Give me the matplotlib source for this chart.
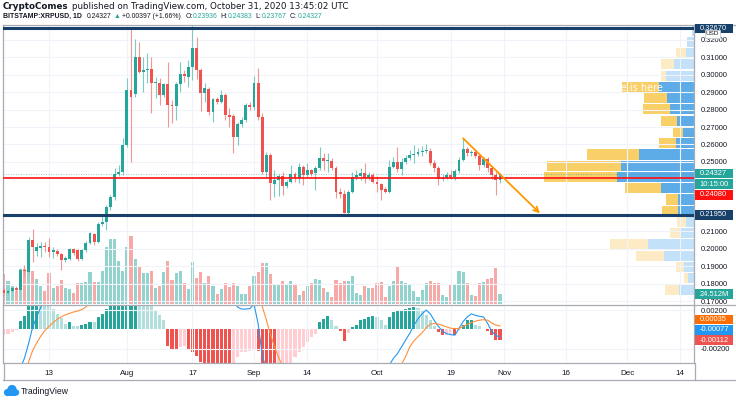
import numpy as np
import pandas as pd
import matplotlib
matplotlib.use("Agg")
import matplotlib.pyplot as plt
import matplotlib.dates as mdates
from matplotlib.lines import Line2D
from matplotlib.patches import Circle, Rectangle
from matplotlib.transforms import IdentityTransform
from matplotlib.ticker import FormatStrFormatter

nan = np.nan

# daily candles BITSTAMP:XRPUSD, 2 Jul -> 31 Oct 2020
dates = pd.date_range("2020-07-02", "2020-10-31", freq="D")

opens = [
    0.1763, 0.1745, 0.1757, 0.1774, 0.1765, 0.1880, 0.1866, 0.2050, 0.1987, 0.2004,
    0.2016, 0.2012, 0.1983, 0.1989, 0.1970, 0.1935, 0.1939, 0.1997, 0.1993, 0.1941,
    0.1993, 0.2035, 0.2085, 0.2039, 0.2142, 0.2155, 0.2242, 0.2299, 0.2430, 0.2443,
    0.2596, 0.2913, 0.2890, 0.3104, 0.3018, 0.3028, 0.3032, 0.2951, 0.2955, 0.2884,
    0.2945, 0.2826, 0.2821, 0.2945, 0.3005, 0.2989, 0.3047, 0.3152, 0.3028, 0.2897,
    0.2917, 0.2788, 0.2859, 0.2845, 0.2884, 0.2769, 0.2765, 0.2644, 0.2717, 0.2740,
    0.2826, 0.2813, 0.2951, 0.2759, 0.2443, 0.2539, 0.2372, 0.2395, 0.2418, 0.2361,
    0.2385, 0.2430, 0.2407, 0.2472, 0.2424, 0.2453, 0.2434, 0.2462, 0.2520, 0.2506,
    0.2506, 0.2462, 0.2326, 0.2315, 0.2207, 0.2328, 0.2414, 0.2418, 0.2434, 0.2407,
    0.2424, 0.2385, 0.2372, 0.2342, 0.2328, 0.2472, 0.2500, 0.2457, 0.2499, 0.2522,
    0.2539, 0.2545, 0.2556, 0.2562, 0.2564, 0.2491, 0.2464, 0.2399, 0.2409, 0.2424,
    0.2415, 0.2447, 0.2510, 0.2572, 0.2549, 0.2558, 0.2533, 0.2481, 0.2514, 0.2462,
    0.2424, 0.23936,
]
highs = [
    0.1774, 0.1768, 0.1786, 0.1786, 0.1889, 0.1906, 0.2067, 0.2113, 0.2033, 0.2040,
    0.2040, 0.2062, 0.2012, 0.1998, 0.1975, 0.1958, 0.2004, 0.2004, 0.1998, 0.1998,
    0.2044, 0.2096, 0.2090, 0.2154, 0.2194, 0.2251, 0.2309, 0.2464, 0.2481, 0.2637,
    0.2982, 0.3267, 0.3204, 0.3190, 0.3104, 0.3124, 0.3104, 0.2989, 0.2980, 0.2955,
    0.3075, 0.2855, 0.2960, 0.3075, 0.3028, 0.3085, 0.3286, 0.3219, 0.3039, 0.2951,
    0.2930, 0.2867, 0.2872, 0.2913, 0.2895, 0.2807, 0.2775, 0.2729, 0.2757, 0.2838,
    0.2845, 0.2993, 0.3037, 0.2780, 0.2556, 0.2550, 0.2453, 0.2430, 0.2441, 0.2395,
    0.2481, 0.2441, 0.2491, 0.2481, 0.2491, 0.2458, 0.2476, 0.2587, 0.2549, 0.2549,
    0.2522, 0.2476, 0.2349, 0.2338, 0.2338, 0.2443, 0.2453, 0.2464, 0.2491, 0.2441,
    0.2435, 0.2418, 0.2378, 0.2355, 0.2510, 0.2529, 0.2587, 0.2522, 0.2539, 0.2568,
    0.2596, 0.2579, 0.2591, 0.2602, 0.2579, 0.2510, 0.2476, 0.2430, 0.2441, 0.2453,
    0.2458, 0.2527, 0.2635, 0.2585, 0.2568, 0.2573, 0.2545, 0.2527, 0.2527, 0.2476,
    0.2441, 0.24383,
]
lows = [
    0.1734, 0.1734, 0.1751, 0.1751, 0.1763, 0.1843, 0.1855, 0.1925, 0.1958, 0.1952,
    0.1983, 0.1952, 0.1947, 0.1958, 0.1878, 0.1924, 0.1935, 0.1964, 0.1929, 0.1935,
    0.1981, 0.2027, 0.2021, 0.2033, 0.2131, 0.2108, 0.2223, 0.2280, 0.2418, 0.2424,
    0.2585, 0.2500, 0.2870, 0.3010, 0.2903, 0.2951, 0.2780, 0.2865, 0.2826, 0.2874,
    0.2702, 0.2721, 0.2740, 0.2903, 0.2960, 0.2932, 0.2970, 0.2974, 0.2794, 0.2845,
    0.2769, 0.2730, 0.2832, 0.2838, 0.2740, 0.2702, 0.2549, 0.2596, 0.2700, 0.2729,
    0.2798, 0.2798, 0.2740, 0.2430, 0.2407, 0.2280, 0.2297, 0.2303, 0.2309, 0.2349,
    0.2378, 0.2384, 0.2376, 0.2366, 0.2412, 0.2418, 0.2338, 0.2455, 0.2453, 0.2443,
    0.2453, 0.2290, 0.2292, 0.2204, 0.2194, 0.2320, 0.2395, 0.2395, 0.2376, 0.2395,
    0.2378, 0.2328, 0.2280, 0.2320, 0.2320, 0.2464, 0.2441, 0.2424, 0.2487, 0.2510,
    0.2493, 0.2533, 0.2533, 0.2550, 0.2481, 0.2441, 0.2366, 0.2389, 0.2399, 0.2401,
    0.2395, 0.2435, 0.2504, 0.2533, 0.2533, 0.2522, 0.2453, 0.2470, 0.2441, 0.2401,
    0.2309, 0.23767,
]
closes = [
    0.1745, 0.1757, 0.1774, 0.1765, 0.1880, 0.1872, 0.2050, 0.2012, 0.2012, 0.2016,
    0.2010, 0.1983, 0.1993, 0.1970, 0.1935, 0.1945, 0.1997, 0.1974, 0.1941, 0.1993,
    0.2035, 0.2089, 0.2039, 0.2142, 0.2155, 0.2242, 0.2299, 0.2430, 0.2443, 0.2596,
    0.2913, 0.2874, 0.3104, 0.3018, 0.3028, 0.3032, 0.2951, 0.2959, 0.2884, 0.2945,
    0.2826, 0.2821, 0.2945, 0.3003, 0.2993, 0.3047, 0.3152, 0.3028, 0.2897, 0.2922,
    0.2788, 0.2859, 0.2845, 0.2884, 0.2769, 0.2756, 0.2644, 0.2717, 0.2740, 0.2826,
    0.2813, 0.2951, 0.2759, 0.2443, 0.2539, 0.2376, 0.2395, 0.2418, 0.2361, 0.2385,
    0.2430, 0.2407, 0.2472, 0.2424, 0.2453, 0.2430, 0.2462, 0.2520, 0.2506, 0.2510,
    0.2462, 0.2326, 0.2315, 0.2207, 0.2328, 0.2414, 0.2424, 0.2434, 0.2405, 0.2426,
    0.2385, 0.2372, 0.2338, 0.2328, 0.2472, 0.2500, 0.2457, 0.2499, 0.2522, 0.2539,
    0.2545, 0.2556, 0.2562, 0.2565, 0.2491, 0.2464, 0.2399, 0.2409, 0.2424, 0.2415,
    0.2447, 0.2510, 0.2572, 0.2549, 0.2558, 0.2533, 0.2481, 0.2514, 0.2462, 0.2424,
    0.2393, 0.24327,
]
# volume, millions of XRP
volume = [
    73, 56, 44, 32, 86, 86, 110, 81, 61, 44,
    32, 76, 39, 44, 59, 39, 37, 27, 51, 51,
    54, 78, 54, 54, 81, 140, 159, 159, 105, 81,
    140, 167, 110, 91, 76, 76, 81, 39, 44, 78,
    105, 59, 76, 81, 51, 37, 103, 64, 78, 51,
    69, 44, 25, 37, 51, 42, 51, 44, 25, 25,
    44, 69, 78, 100, 100, 74, 49, 49, 56, 47,
    56, 47, 22, 32, 44, 51, 61, 59, 39, 29,
    17, 59, 51, 56, 56, 69, 27, 22, 44, 39,
    39, 51, 54, 17, 44, 56, 93, 56, 51, 49,
    32, 17, 34, 51, 56, 51, 51, 22, 17, 47,
    49, 81, 78, 51, 22, 20, 51, 54, 61, 64,
    88, 24.512,
]
# MACD (12, 26, 9), values in thousandths; nan where the line is far outside the pane
macd_hist = [
    -0.6, -0.45, -0.25, -0.1, 0.9, 1.4, 2.4, 2.9, 3.1, 3.0,
    2.8, 2.45, 2.15, 1.6, 1.2, 0.6, 0.75, 0.35, 0.3, 0.4,
    0.6, 0.8, 0.75, 1.3, 1.6, 2.1, 2.6, 3.0, 3.5, 4.0,
    4.8, 5.0, 5.2, 4.8, 4.2, 3.6, 2.9, 2.0, 1.45, 0.93,
    -1.7, -2.0, -2.1, -1.8, -1.75, -2.0, -2.3, -2.8, -3.4, -3.8,
    -4.2, -4.5, -4.7, -4.8, -5.0, -5.1, -3.6, -2.9, -2.35, -2.3,
    -2.25, -2.0, -2.2, -4.0, -5.0, -6.0, -6.5, -6.3, -5.6, -4.6,
    -3.7, -2.9, -2.3, -1.8, -1.3, -0.8, -0.45, 0.76, 1.1, 1.38,
    0.93, 0.3, -0.2, -1.2, -0.35, 0.25, 0.4, 0.93, 1.1, 1.25,
    1.38, 1.3, 0.93, 0.5, 1.28, 1.8, 1.9, 2.0, 2.15, 2.25,
    2.3, 2.25, 1.9, 1.5, 0.93, 0.3, -0.3, -0.6, -0.55, -0.45,
    -0.6, -0.05, 0.5, 0.93, 0.95, 0.5, 0.3, 0.05, -0.15, -0.6,
    -1.07, -1.12,
]
macd_line = (
    [nan] * 3 + [-4.6, -4.0, -3.0, -1.5, 0.2, 1.3, 2.3, 3.0]
    + [nan] * 45 + [3.0, 2.3, 2.1, 2.1, 2.15, 2.6, 0.6, -2.6, -4.2]
    + [nan] * 28
    + [-4.5, -3.7, -3.0, -2.5, -1.8, -1.1, -0.4, 0.4, 1.1, 1.6, 2.0, 1.6, 0.9,
       0.3, -0.2, -0.45, -0.55, -0.6, 0.1, 0.8, 1.28, 1.6, 1.45, 1.35, 1.28,
       0.6, -0.2, -0.65, -0.77]
)
signal_line = (
    [nan] * 5
    + [-4.8, -3.4, -2.2, -1.4, -0.7, -0.1, 0.3, 0.7, 1.05, 1.3, 1.5, 1.65, 1.8,
       1.9, 2.05, 2.3, 2.8]
    + [nan] * 40 + [3.0, 2.4, 1.0, -0.5, -1.8, -2.9, -3.8]
    + [nan] * 27
    + [-4.5, -3.6, -2.8, -1.8, -1.2, -0.75, -0.35, 0.15, 0.55, 0.6, 0.55, 0.4,
       0.25, 0.12, 0.07, 0.1, 0.3, 0.5, 0.7, 0.85, 0.95, 1.0, 0.95, 0.65, 0.45,
       0.35]
)

# volume profile (visible range), 24 rows from bottom to top, millions
vp_up = [88, 34, 60, 180, 274, 84, 48, 94, 94, 200, 460, 440,
         330, 110, 64, 104, 146, 160, 210, 168, 120, 50, 40, 12]
vp_down = [86, 26, 48, 168, 230, 60, 52, 96, 76, 214, 440, 440,
           310, 100, 60, 96, 158, 140, 220, 30, 80, 60, 0, 0]
va_first, va_last = 7, 18  # value area rows

support = 0.2195
top_level = 0.3267
red_level = 0.2408
last_price = 0.24327
arrow_from = (pd.Timestamp("2020-10-22"), 0.2635)
arrow_to = (pd.Timestamp("2020-11-09 18:00"), 0.2204)

price_ticks = [0.17, 0.18, 0.19, 0.20, 0.21, 0.25, 0.26, 0.27, 0.28, 0.29,
               0.30, 0.31, 0.32]
tick_dates = ["2020-07-13", "2020-08-01", "2020-08-17", "2020-09-01", "2020-09-14",
              "2020-10-01", "2020-10-19", "2020-11-01", "2020-11-16", "2020-12-01",
              "2020-12-14"]
tick_labels = ["13", "Aug", "17", "Sep", "14", "Oct", "19", "Nov", "16", "Dec", "14"]

TEAL, RED = "#26A69A", "#EF5350"
GRID, BORDER, TXT = "#F0F3FA", "#A8ABB4", "#131722"
AXFONT = ["Liberation Sans", "DejaVu Sans"]

W, H = 736, 401
fig = plt.figure(figsize=(W / 100, H / 100), dpi=100)
fig.patch.set_facecolor("white")
renderer = fig.canvas.get_renderer()
PX = IdentityTransform()


def px_rect(x0, y0, x1, y1):
    return [x0 / W, 1 - y1 / H, (x1 - x0) / W, (y1 - y0) / H]


ax = fig.add_axes(px_rect(3, 25, 694, 304))
vol_ax = ax.twinx()
vp_ax = fig.add_axes(px_rect(3, 25, 694, 304), sharey=ax)
mac = fig.add_axes(px_rect(3, 305, 694, 363), sharex=ax)
vol_ax.set_zorder(0)
vp_ax.set_zorder(1)
ax.set_zorder(2)
ax.patch.set_visible(False)
vp_ax.patch.set_visible(False)

x = mdates.date2num(dates)
o, h, l, c = (np.array(v) for v in (opens, highs, lows, closes))
up = c >= o

# candles
ax.vlines(x, l, h, colors=np.where(up, "#7CCBC2", "#F39593"), lw=0.8, zorder=3)
ax.bar(x, np.maximum(np.abs(c - o), 0.0004), bottom=np.minimum(o, c), width=0.72,
       color=np.where(up, TEAL, RED), lw=0, zorder=4)

# volume overlay
vol_ax.bar(x, volume, width=0.74, color=np.where(up, "#93D3CD", "#F7A9A8"), lw=0)
vol_ax.set_ylim(0, 684)
vol_ax.axis("off")

# volume profile
edges = np.linspace(l.min(), h.max(), len(vp_up) + 1)
row_h = edges[1] - edges[0]
rows = np.arange(len(vp_up))
in_va = (rows >= va_first) & (rows <= va_last)
vp_ax.barh(edges[:-1] + row_h / 2, vp_up, height=row_h * 0.9, left=0,
           color=np.where(in_va, "#5DACE8", "#C3E1F8"), lw=0)
vp_ax.barh(edges[:-1] + row_h / 2, vp_down, height=row_h * 0.9, left=vp_up,
           color=np.where(in_va, "#F9CF67", "#FDEBC6"), lw=0)
vp_ax.set_xlim(max(np.add(vp_up, vp_down)) * 691 / 150, 0)
vp_ax.axis("off")
fig.text(663 / W, 1 - 88 / H, "The future is here", color="white", fontsize=7,
         ha="right", va="center", alpha=0.9, zorder=4)

# levels and drawing
for lvl in (support, top_level):
    ax.axhline(lvl, color="#17406A", lw=2.2, zorder=6)
ax.axhline(red_level, color="#FF1010", lw=1.2, zorder=6)
ax.axhline(last_price, color=TEAL, lw=0.6, ls=(0, (1, 2)), alpha=0.7, zorder=5)
ax.annotate("", xy=(mdates.date2num(arrow_to[0]), arrow_to[1]),
            xytext=(mdates.date2num(arrow_from[0]), arrow_from[1]),
            arrowprops=dict(arrowstyle="->", color="#FF9800", lw=1.3,
                            shrinkA=0, shrinkB=0, mutation_scale=9), zorder=7)

# main axis setup
t13 = mdates.date2num(pd.Timestamp("2020-07-13"))
ax.set_xlim(t13 - 11.22, t13 + 157.32)
ax.set_ylim(0.16828, 0.32862)
ax.yaxis.tick_right()
ax.set_yticks(price_ticks)
ax.yaxis.set_major_formatter(FormatStrFormatter("%.5f"))
ax.tick_params(axis="y", length=0, labelsize=5.4, labelcolor=TXT, pad=5)
for t in ax.get_yticklabels():
    t.set_family(AXFONT)
ticks = mdates.date2num(pd.to_datetime(tick_dates))
ax.set_xticks(ticks)
ax.tick_params(axis="x", length=0, labelbottom=False)
ax.grid(color=GRID, lw=0.8)
for side in ("top", "left", "right"):
    ax.spines[side].set_color(BORDER)
    ax.spines[side].set_linewidth(0.9)
ax.spines["bottom"].set_visible(False)

# MACD pane
hist = np.array(macd_hist)
prev = np.r_[-np.inf, hist[:-1]]
hist_col = np.where(hist >= 0, np.where(hist > prev, TEAL, "#B2DFDB"),
                    np.where(hist > prev, "#FFCDD2", RED))
mac.bar(x, hist / 1000, width=0.74, color=hist_col, lw=0)
mac.plot(x, np.array(macd_line) / 1000, color="#2196F3", lw=0.8)
mac.plot(x, np.array(signal_line) / 1000, color="#FF8F3A", lw=0.8)
mac.set_ylim(-0.00348, 0.00252)
mac.yaxis.tick_right()
mac.set_yticks([0.002, -0.002])
mac.set_yticklabels(["0.00200", "-0.00200"])
mac.tick_params(axis="y", length=0, labelsize=5.4, labelcolor=TXT, pad=5)
mac.set_xticks(ticks)
mac.set_xticklabels(tick_labels)
mac.tick_params(axis="x", length=0, pad=5, labelsize=5.8, labelcolor=TXT)
for t in mac.get_yticklabels() + mac.get_xticklabels():
    t.set_family(AXFONT)
mac.grid(color=GRID, lw=0.8)
for side in mac.spines:
    mac.spines[side].set_color(BORDER)
    mac.spines[side].set_linewidth(0.9)


# coloured value boxes on the price scale (fixed 38 px wide, 9.6 px tall)
def axis_label(axis, y, text, fc, dy=0):
    ypx = axis.get_yaxis_transform().transform((1, y))[1] - dy
    fig.add_artist(Rectangle((694.5, ypx - 4.8), 38, 9.6, transform=PX, fc=fc,
                             ec="none", zorder=20))
    fig.text(699.5 / W, ypx / H, text, fontsize=5.4, color="white", va="center",
             ha="left", family=AXFONT, zorder=21)


axis_label(ax, top_level, "0.32670", "#17406A")
axis_label(ax, last_price, "0.24327", TEAL)
axis_label(ax, last_price, "10:15:00", TEAL, dy=10.6)
axis_label(ax, red_level, "0.24080", "#FF1010", dy=17)
axis_label(ax, support, "0.21950", "#17406A")
axis_label(vol_ax, volume[-1], "24.512M", TEAL)
axis_label(mac, signal_line[-1] / 1000, "0.00035", "#FF6D00", dy=-6.5)
axis_label(mac, macd_line[-1] / 1000, "-0.00077", "#2196F3", dy=-7)
axis_label(mac, macd_hist[-1] / 1000, "-0.00112", RED)
fig.add_artist(Rectangle((705, H - 38), 15, 8.5, transform=PX, fc="white",
                         ec="#C9CBD1", lw=0.6, zorder=30))
fig.text(712.5 / W, 1 - 33.8 / H, "USD", fontsize=4.6, color=TXT, ha="center",
         va="center", family=AXFONT, zorder=31)


# frame lines outside the panes
def fig_line(xs, ys):
    fig.add_artist(Line2D([v / W for v in xs], [1 - v / H for v in ys],
                          color=BORDER, lw=0.9, zorder=5))


fig_line([694, 736], [25, 25])
fig_line([694, 736], [304.5, 304.5])
fig_line([3, 736], [380, 380])
fig_line([694.5, 694.5], [363, 380])
fig_line([3.5, 3.5], [363, 380])


# header, laid out run by run
def header_line(parts, y_px, size, family):
    xp = 3.0
    for s, col, wt, gap in parts:
        t = fig.text(xp / W, 1 - y_px / H, s, fontsize=size, fontweight=wt,
                     color=col, va="center", family=family)
        xp += t.get_window_extent(renderer).width + gap


header_line([("CryptoComes", TXT, "bold", 3),
             ("published on TradingView.com, October 31, 2020 13:45:02 UTC", TXT,
              "normal", 0)], 6.5, 6.3, ["DejaVu Sans"])
header_line([("BITSTAMP:XRPUSD, 1D", TXT, "bold", 5),
             ("0.24327", TXT, "normal", 2),
             ("▲", TEAL, "normal", 2),
             ("+0.00397 (+1.66%)", TXT, "normal", 4),
             ("O:", TXT, "normal", 0.5), ("0.23936", TEAL, "normal", 3),
             ("H:", TXT, "normal", 0.5), ("0.24383", TEAL, "normal", 3),
             ("L:", TXT, "normal", 0.5), ("0.23767", TEAL, "normal", 3),
             ("C:", TXT, "normal", 0.5), ("0.24327", TEAL, "normal", 0)],
            16.5, 4.95, AXFONT)

# TradingView logo: small cloud drawn in pixel space
for cx, cy, r in ((7.5, 392.5, 3.6), (12, 389.5, 4.6), (16, 392.5, 3.2)):
    fig.add_artist(Circle((cx, H - cy), r, transform=PX, fc="#2196F3", ec="none"))
fig.add_artist(Rectangle((7.5, H - 396), 8.5, 3.6, transform=PX, fc="#2196F3",
                         ec="none"))
fig.text(21 / W, 1 - 391 / H, "TradingView", fontsize=6.2, color=TXT, va="center",
         family=AXFONT)

fig.savefig("out.png", dpi=100)
